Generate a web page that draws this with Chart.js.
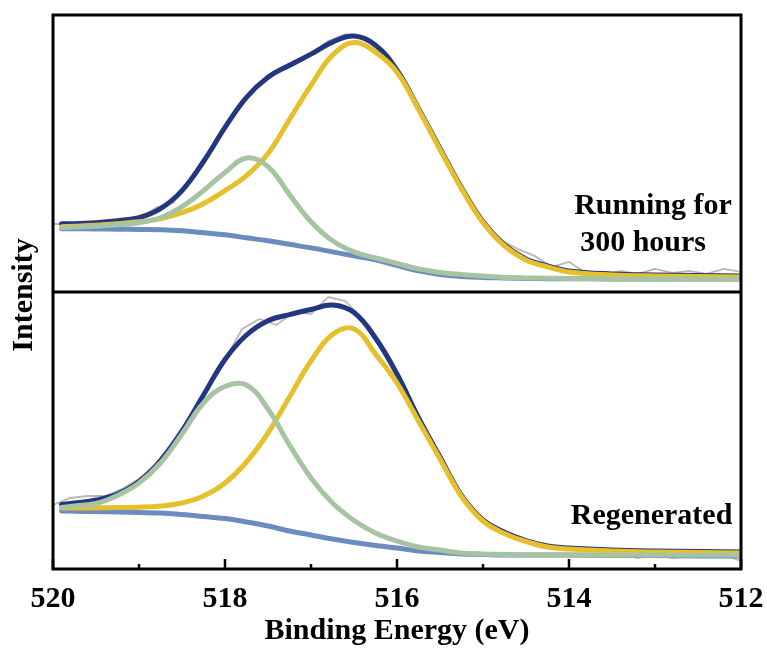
<!DOCTYPE html>
<html>
<head>
<meta charset="utf-8">
<script src="https://cdn.jsdelivr.net/npm/chart.js@4.4.1/dist/chart.umd.min.js"></script>
<style>
  html, body { margin: 0; padding: 0; background: #fff; }
  #wrap { width: 767px; height: 649px; }
</style>
</head>
<body>
<div id="wrap"><canvas id="xps"></canvas></div>
<script>
// ======================
// DATA (binding energy in eV, intensity in arb. units per panel)
// ======================
const fitEnergy = [519.9, 519.75, 519.5, 519.25, 519.0, 518.75, 518.5, 518.25, 518.0, 517.75,
  517.5, 517.25, 517.0, 516.75, 516.5, 516.25, 516.0, 515.75, 515.5, 515.25,
  515.0, 514.75, 514.5, 514.25, 514.0, 513.5, 513.0, 512.5, 512.0];

const rawEnergy = [520.0, 519.8, 519.6, 519.4, 519.2, 519.0, 518.8, 518.6, 518.4, 518.2,
  518.0, 517.8, 517.6, 517.4, 517.2, 517.0, 516.8, 516.6, 516.4, 516.2,
  516.0, 515.8, 515.6, 515.4, 515.2, 515.0, 514.8, 514.6, 514.4, 514.2,
  514.0, 513.8, 513.6, 513.4, 513.2, 513.0, 512.8, 512.6, 512.4, 512.2, 512.0];

// top panel: running for 300 hours
const runRaw = [68, 67, 70, 69, 72, 73, 84, 89, 113, 137, 165, 191, 207, 220, 226, 236, 250, 257, 253, 240,
  221, 190, 158, 127, 97, 70, 52, 43, 36, 25, 30, 19, 17, 21, 18, 23, 19, 21, 18, 23, 20];
const runEnvelope = [68, 68, 69, 71, 74, 83, 101, 130, 164, 194, 214, 226, 237, 249, 255, 246, 221, 183, 143, 104,
  70, 47, 33, 26, 21, 18, 17, 16.5, 16];
const runPeakA = [65, 65.5, 66.5, 68, 70, 73, 79, 88, 101, 116, 138, 172, 206, 236, 248.5, 239, 219, 182, 142, 103,
  69, 46, 32, 25, 20, 17, 16, 15.5, 15];
const runPeakB = [64, 64.5, 65.5, 67, 69, 74, 85, 101, 119, 133.5, 125, 97, 70, 51, 40, 34, 28.5, 23, 19.5, 17.5,
  16, 14.5, 14, 13.7, 13.5, 13, 13, 13, 13];
const runBackground = [63, 63, 62.8, 62.5, 62.3, 62, 61, 59, 57, 54, 51, 47.5, 44, 40, 36, 32, 26.5, 21, 17.5, 15.5,
  14.5, 14, 13.5, 13.3, 13.2, 13, 13, 13, 13];

// bottom panel: regenerated
const regRaw = [64, 71, 73, 73, 80, 90, 105, 127, 154, 182, 210, 240, 250, 244, 257, 255, 272, 268, 250, 225,
  194, 158, 128, 97, 69, 50, 40, 32, 26, 22, 20, 19, 18, 15, 11, 15, 11, 13, 16, 14, 8];
const regEnvelope = [64.5, 66, 69, 75, 87.5, 108.5, 138, 174, 209.5, 234, 248.3, 254.4, 259.5, 264, 256.5, 231, 195, 151.3, 112, 73.5,
  49, 36.7, 28.4, 23, 21, 19, 18, 17.5, 17];
const regPeakA = [61, 61, 61.2, 61.5, 61.8, 63, 66, 73, 86, 107, 136, 172, 208, 234.5, 240, 215, 186, 148, 110, 72.5,
  48, 35.5, 27.5, 22, 20, 18, 17, 16.5, 16];
const regPeakB = [61.5, 63, 65.5, 73.5, 86, 106, 135, 166, 182.5, 184, 160, 124, 91, 66, 48.5, 36, 28, 22, 19, 16,
  15, 14.5, 14, 14, 14, 14, 14, 14, 14];
const regBackground = [58, 57.8, 57.4, 57, 56.5, 56, 54.5, 52.5, 50.5, 47, 43, 38, 34, 30, 26.5, 23.5, 21, 18, 16.5, 15,
  14.5, 14, 14, 14, 14, 13.5, 13.5, 13, 13];

const xTicks = [512, 513, 514, 515, 516, 517, 518, 519, 520];
const xLabels = [512, 514, 516, 518, 520];

// ======================
// COLOURS
// ======================
const RAW = "#b8b8b8";
const NAVY = "#22377f";
const YELLOW = "#e6c02c";
const SAGE = "#a7c4a2";
const BLUE = "#6b8cbf";
const SERIF = '"Liberation Serif", "Times New Roman", serif';

function pts(xs, ys) {
  return xs.map((x, i) => ({ x: x, y: ys[i] }));
}

function curve(data, color, axis, order) {
  return {
    data: data,
    yAxisID: axis,
    borderColor: color,
    backgroundColor: color,
    borderWidth: 5,
    pointRadius: 0,
    tension: 0.4,
    borderCapStyle: "round",
    borderJoinStyle: "round",
    order: order
  };
}

function rawLine(data, axis) {
  return {
    data: data,
    yAxisID: axis,
    borderColor: RAW,
    borderWidth: 1.8,
    pointRadius: 0,
    tension: 0,
    order: 9
  };
}

// frame, inward ticks and panel labels
const framePlugin = {
  id: "frame",
  afterDatasetsDraw(chart) {
    const { ctx, chartArea: a, scales } = chart;
    ctx.save();
    ctx.strokeStyle = "#000";
    ctx.lineWidth = 3;
    ctx.strokeRect(a.left, a.top, a.right - a.left, a.bottom - a.top);

    const mid = scales.yBot.top;
    ctx.beginPath();
    ctx.moveTo(a.left, mid);
    ctx.lineTo(a.right, mid);
    ctx.stroke();

    ctx.lineWidth = 2.5;
    ctx.beginPath();
    xTicks.forEach(e => {
      const x = scales.x.getPixelForValue(e);
      const len = xLabels.includes(e) ? 10 : 5;
      ctx.moveTo(x, a.bottom);
      ctx.lineTo(x, a.bottom - len);
    });
    ctx.stroke();

    ctx.fillStyle = "#000";
    ctx.font = "bold 30px " + SERIF;
    ctx.textAlign = "left";
    ctx.textBaseline = "alphabetic";
    const xl = scales.x.getPixelForValue(513.94);
    ctx.fillText("Running for", xl, scales.yTop.getPixelForValue(78));
    ctx.fillText("300 hours", xl + 6, scales.yTop.getPixelForValue(41));
    ctx.fillText("Regenerated", scales.x.getPixelForValue(513.98), scales.yBot.getPixelForValue(45));

    ctx.translate(24, (a.top + a.bottom) / 2 + 3);
    ctx.rotate(-Math.PI / 2);
    ctx.textAlign = "center";
    ctx.textBaseline = "middle";
    ctx.fillText("Intensity", 0, 0);
    ctx.restore();
  }
};

new Chart(document.getElementById("xps"), {
  type: "line",
  data: {
    datasets: [
      rawLine(pts(rawEnergy, runRaw), "yTop"),
      curve(pts(fitEnergy, runEnvelope), NAVY, "yTop", 5),
      curve(pts(fitEnergy, runBackground), BLUE, "yTop", 4),
      curve(pts(fitEnergy, runPeakA), YELLOW, "yTop", 3),
      curve(pts(fitEnergy, runPeakB), SAGE, "yTop", 2),

      rawLine(pts(rawEnergy, regRaw), "yBot"),
      curve(pts(fitEnergy, regEnvelope), NAVY, "yBot", 5),
      curve(pts(fitEnergy, regBackground), BLUE, "yBot", 4),
      curve(pts(fitEnergy, regPeakA), YELLOW, "yBot", 3),
      curve(pts(fitEnergy, regPeakB), SAGE, "yBot", 2)
    ]
  },
  options: {
    responsive: true,
    maintainAspectRatio: false,
    animation: false,
    layout: { padding: { left: 53, right: 26, top: 15, bottom: 0 } },
    plugins: { legend: { display: false }, tooltip: { enabled: false } },
    scales: {
      x: {
        type: "linear",
        reverse: true,
        min: 512,
        max: 520,
        grid: { display: false, drawTicks: false },
        border: { display: false },
        afterBuildTicks: axis => { axis.ticks = xTicks.map(v => ({ value: v })); },
        ticks: {
          autoSkip: false,
          maxRotation: 0,
          padding: 12,
          color: "#000",
          font: { family: SERIF, size: 30, weight: "bold" },
          callback: v => (xLabels.includes(v) ? String(v) : "")
        },
        title: {
          display: true,
          text: "Binding Energy (eV)",
          color: "#000",
          padding: { top: -16, bottom: 0 },
          font: { family: SERIF, size: 30, weight: "bold" }
        }
      },
      yBot: {
        type: "linear",
        position: "left",
        stack: "panels",
        stackWeight: 1,
        min: 0,
        max: 277,
        display: false
      },
      yTop: {
        type: "linear",
        position: "left",
        stack: "panels",
        stackWeight: 1,
        min: 0,
        max: 276,
        display: false
      }
    }
  },
  plugins: [framePlugin]
});
</script>
</body>
</html>
